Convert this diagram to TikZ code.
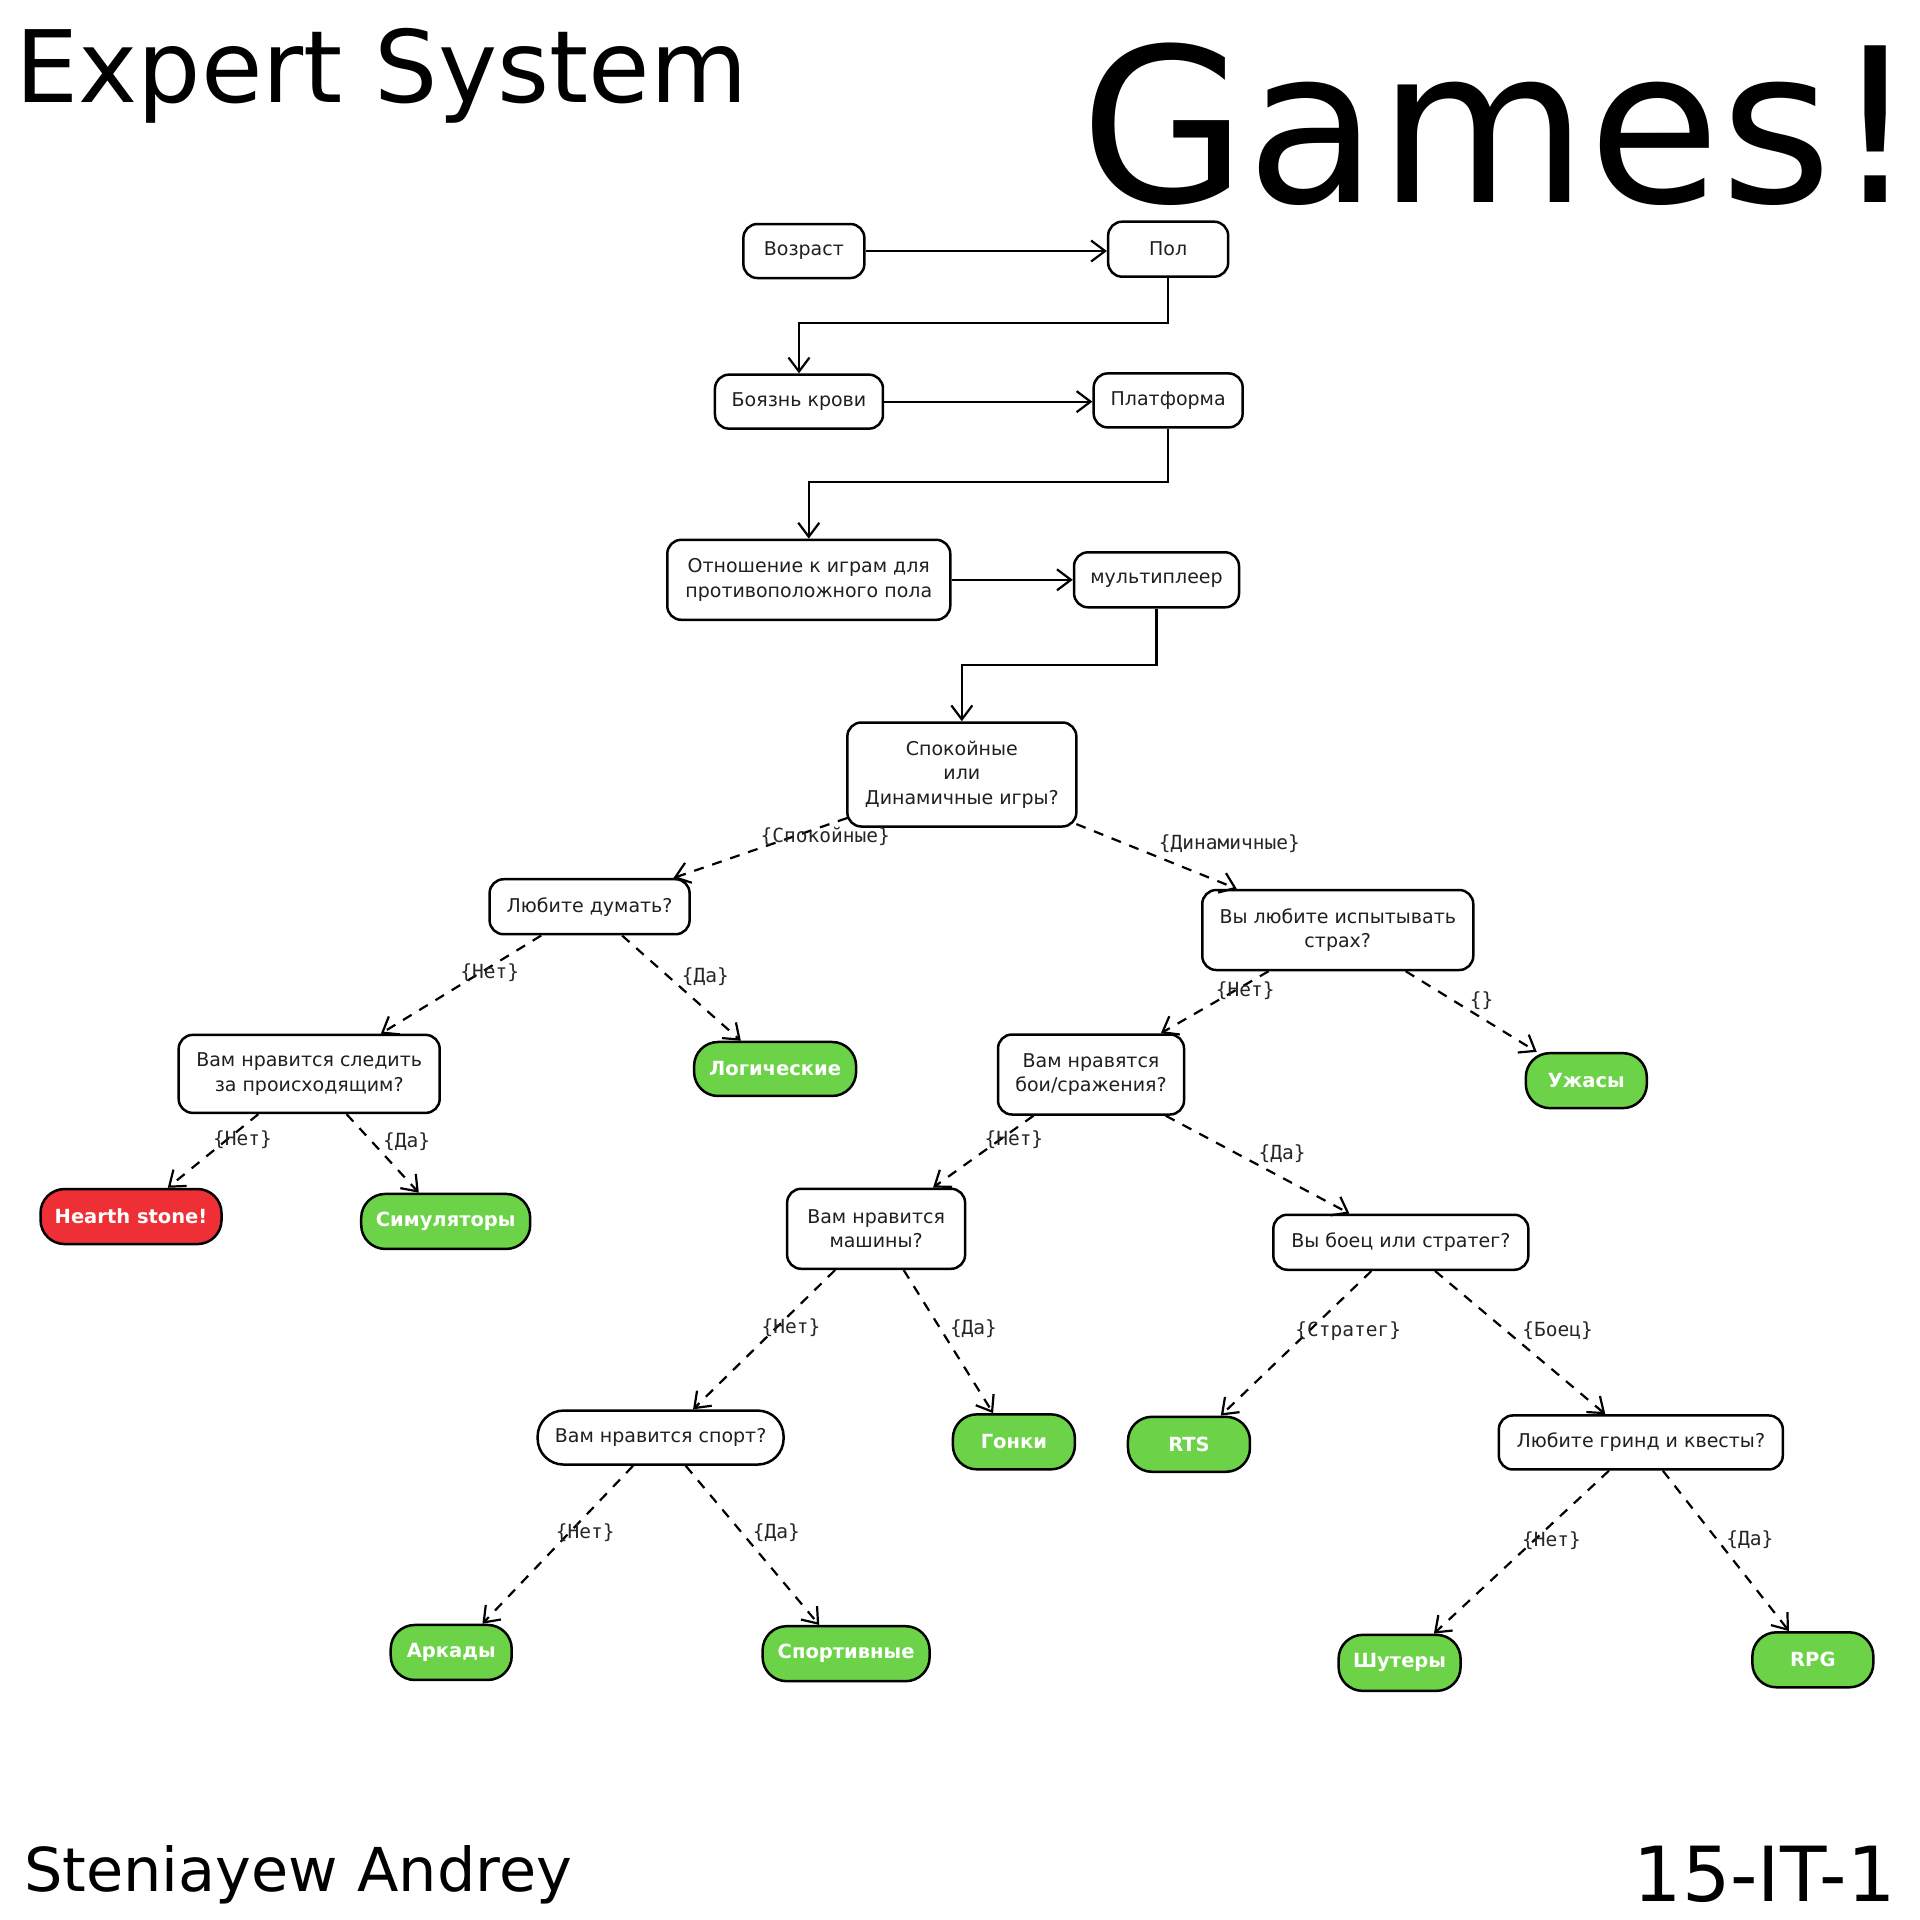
\documentclass[tikz,border=0pt]{standalone}
\usepackage{fontspec}
\setmainfont{DejaVu Sans}
\newfontfamily\lblfont{DejaVu Sans Mono}
\usetikzlibrary{arrows.meta,calc}
\definecolor{leafgreen}{RGB}{108,211,72}
\definecolor{leafred}{RGB}{238,47,53}
\tikzset{
 qbox/.style={draw=black, line width=2.5pt, rounded corners=14pt, fill=white, align=center, inner sep=0pt, font=\fontsize{19}{24.5}\selectfont, text=black!88},
 leaf/.style={draw=black, line width=2.5pt, rounded corners=24pt, fill=leafgreen, inner sep=0pt, font=\bfseries\fontsize{19.5}{22}\selectfont, text=white},
 redleaf/.style={leaf, fill=leafred},
 flow/.style={line width=2.2pt, -{Straight Barb[length=14pt,width=21pt,line width=2.2pt]}},
 choice/.style={flow, dash pattern=on 10pt off 9pt},
 elabel/.style={font=\lblfont\fontsize{19.5}{21}\selectfont, text=black!85, inner sep=0pt},
 title/.style={anchor=base west, inner sep=0pt},
}
\begin{document}
\begin{tikzpicture}[x=1.2245pt, y=-1.2245pt]
\useasboundingbox[fill=white] (0,0) rectangle (1568,1568);

% titles
\node[title, font=\fontsize{100}{100}\selectfont] (ttl) at (12.2,83.3) {Expert System};
\node[title, text depth=0pt, font=\fontsize{215}{215}\selectfont] (games) at (882,165) {Games!};
\node[title, font=\fontsize{60.5}{60.5}\selectfont] (author) at (19.6,1545) {Steniayew Andrey};
\node[title, font=\fontsize{76}{76}\selectfont] (group) at (1334,1553) {15-IT-1};

% question nodes
\node[qbox, minimum width=121pt, minimum height=54pt] (voz) at (656.5,205) {Возраст};
\node[qbox, minimum width=120pt, minimum height=55pt] (pol) at (954,203.5) {Пол};
\node[qbox, minimum width=168pt, minimum height=54pt] (boya) at (652.5,328) {Боязнь крови};
\node[qbox, minimum width=149pt, minimum height=54pt] (plat) at (954,327) {Платформа};
\node[qbox, minimum width=283pt, minimum height=80pt] (otn) at (660.5,473.5) {Отношение к играм для\\противоположного пола};
\node[qbox, minimum width=165pt, minimum height=55pt] (mult) at (944.5,473.5) {мультиплеер};
\node[qbox, minimum width=229pt, minimum height=104pt] (spok) at (785.5,632.5) {Спокойные\\или\\Динамичные игры?};
\node[qbox, minimum width=200pt, minimum height=55pt] (dumat) at (481.5,740.5) {Любите думать?};
\node[qbox, minimum width=271pt, minimum height=80pt] (strah) at (1092.5,759.5) {Вы любите испытывать\\страх?};
\node[qbox, minimum width=261pt, minimum height=78pt] (sled) at (252.5,877) {Вам нравится следить\\за происходящим?};
\node[qbox, minimum width=186pt, minimum height=80pt] (boi) at (891,877.5) {Вам нравятся\\бои/сражения?};
\node[qbox, minimum width=178pt, minimum height=80pt] (mash) at (715.5,1003.5) {Вам нравится\\машины?};
\node[qbox, minimum width=255pt, minimum height=55pt] (boec) at (1144,1014.5) {Вы боец или стратег?};
\node[qbox, rounded corners=26pt, minimum width=246pt, minimum height=54pt] (sport) at (539.5,1174) {Вам нравится спорт?};
\node[qbox, minimum width=284pt, minimum height=54pt] (grind) at (1340,1178) {Любите гринд и квесты?};

% answer nodes
\node[leaf, minimum width=162pt, minimum height=54pt] (logic) at (633,873) {Логические};
\node[leaf, minimum width=121pt, minimum height=55pt] (uzh) at (1295.5,882.5) {Ужасы};
\node[redleaf, minimum width=181pt, minimum height=55pt] (hearth) at (107,993.5) {Hearth stone!};
\node[leaf, minimum width=169pt, minimum height=55pt] (sim) at (364,997.5) {Симуляторы};
\node[leaf, minimum width=122pt, minimum height=55pt] (gonki) at (828,1177.5) {Гонки};
\node[leaf, minimum width=122pt, minimum height=55pt] (rts) at (971,1179.5) {RTS};
\node[leaf, minimum width=121pt, minimum height=55pt] (arkad) at (368.5,1349.5) {Аркады};
\node[leaf, minimum width=167pt, minimum height=55pt] (sportiv) at (691,1350.5) {Спортивные};
\node[leaf, minimum width=122pt, minimum height=56pt] (shut) at (1143,1358) {Шутеры};
\node[leaf, minimum width=121pt, minimum height=55pt] (rpg) at (1480.5,1355.5) {RPG};

% solid flow
\draw[flow] (voz.east) -- (voz.east -| pol.west);
\draw[flow] (pol.south) |- ($(boya.north)+(0,-41)$) -- (boya.north);
\draw[flow] (boya.east) -- (boya.east -| plat.west);
\draw[flow] (plat.south) |- ($(otn.north)+(0,-46)$) -- (otn.north);
\draw[flow] (otn.east) -- (otn.east -| mult.west);
\draw[flow] (mult.south) |- ($(spok.north)+(0,-46)$) -- (spok.north);

% dashed choices
\draw[choice] ($(spok.south)+(-93.5,-8)$) -- ($(dumat.north)+(68.5,0)$);
\draw[choice] ($(spok.south)+(93.5,-3)$) -- ($(strah.north)+(-82.5,0)$);
\draw[choice] ($(dumat.south)+(-39.5,0)$) -- ($(sled.north)+(58.5,0)$);
\draw[choice] ($(dumat.south)+(26.5,0)$) -- ($(logic.north)+(-28,0)$);
\draw[choice] ($(sled.south)+(-41.5,0)$) -- ($(hearth.north)+(30,0)$);
\draw[choice] ($(sled.south)+(30.5,0)$) -- ($(sim.north)+(-22,0)$);
\draw[choice] ($(strah.south)+(-56.5,0)$) -- ($(boi.north)+(57,0)$);
\draw[choice] ($(strah.south)+(55.5,0)$) -- ($(uzh.north)+(-40.5,0)$);
\draw[choice] ($(boi.south)+(-47,0)$) -- ($(mash.north)+(46.5,0)$);
\draw[choice] ($(boi.south)+(61,0)$) -- ($(boec.north)+(-42,0)$);
\draw[choice] ($(mash.south)+(-33.5,0)$) -- ($(sport.north)+(26.5,0)$);
\draw[choice] ($(mash.south)+(22.5,0)$) -- ($(gonki.north)+(-17,0)$);
\draw[choice] ($(boec.south)+(-24,0)$) -- ($(rts.north)+(26,0)$);
\draw[choice] ($(boec.south)+(28,0)$) -- ($(grind.north)+(-29,0)$);
\draw[choice] ($(sport.south)+(-22.5,0)$) -- ($(arkad.north)+(25.5,0)$);
\draw[choice] ($(sport.south)+(20.5,0)$) -- ($(sportiv.north)+(-22,0)$);
\draw[choice] ($(grind.south)+(-26,0)$) -- ($(shut.north)+(28,0)$);
\draw[choice] ($(grind.south)+(18,0)$) -- ($(rpg.north)+(-19.5,0)$);

% labels
\node[elabel] (l1) at (674,683) {\{Спокойные\}};
\node[elabel] (l2) at (1004,689) {\{Динамичные\}};
\node[elabel] (l3) at (400,794) {\{Нет\}};
\node[elabel] (l4) at (576,798) {\{Да\}};
\node[elabel] (l5) at (198,931) {\{Нет\}};
\node[elabel] (l6) at (332,932) {\{Да\}};
\node[elabel] (l7) at (1017,809) {\{Нет\}};
\node[elabel] (l8) at (1210,817) {\{\}};
\node[elabel] (l9) at (828,931) {\{Нет\}};
\node[elabel] (l10) at (1047,942) {\{Да\}};
\node[elabel] (l11) at (646,1084) {\{Нет\}};
\node[elabel] (l12) at (795,1085) {\{Да\}};
\node[elabel] (l13) at (1101,1087) {\{Стратег\}};
\node[elabel] (l14) at (1272,1087) {\{Боец\}};
\node[elabel] (l15) at (478,1252) {\{Нет\}};
\node[elabel] (l16) at (634,1252) {\{Да\}};
\node[elabel] (l17) at (1267,1258) {\{Нет\}};
\node[elabel] (l18) at (1429,1257) {\{Да\}};
\end{tikzpicture}
\end{document}
